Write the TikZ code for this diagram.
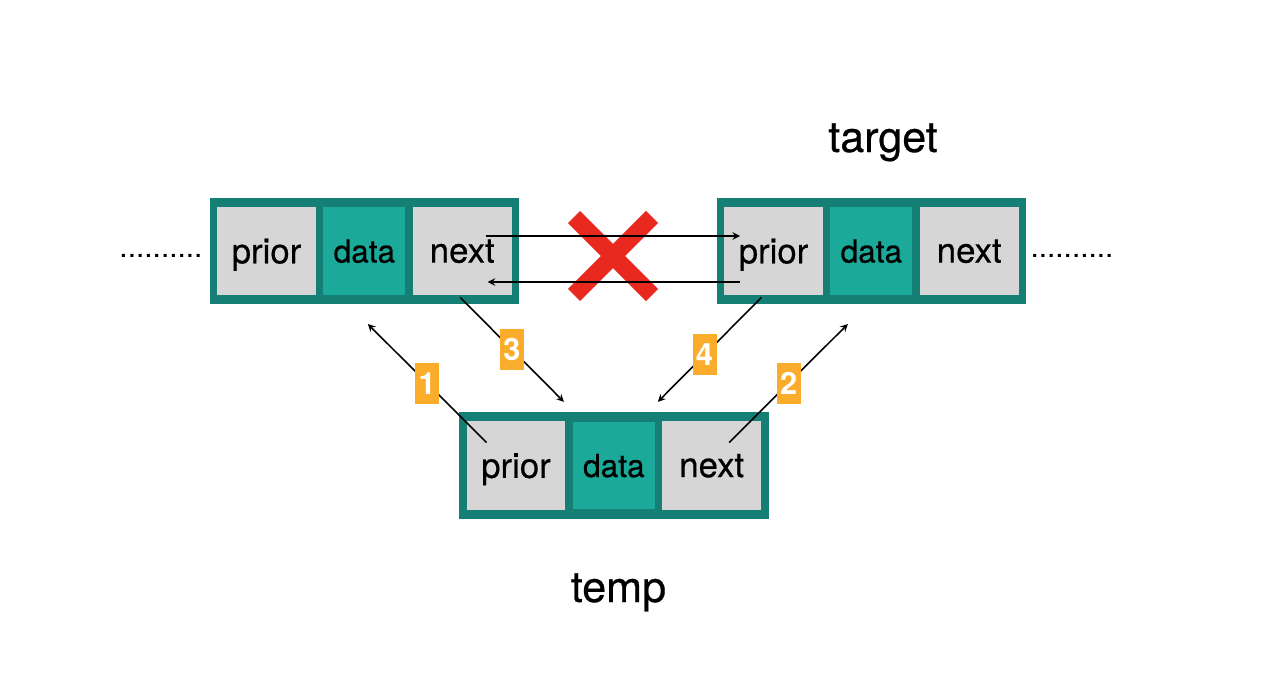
\documentclass[tikz,border=0pt]{standalone}
\usepackage{fontspec}
\setmainfont{TeX Gyre Heros}
\newfontfamily\diagfont[FakeBold=0.5]{TeX Gyre Heros}
\usepackage{xcolor}
\usepackage{tikz}
\usetikzlibrary{shapes,arrows,positioning,fit,backgrounds}

\definecolor{frameteal}{HTML}{167F75}
\definecolor{datateal}{HTML}{1BA99A}
\definecolor{cellgray}{HTML}{D6D6D6}
\definecolor{crossred}{HTML}{E8291F}
\definecolor{numorange}{HTML}{FAAC2A}

\begin{document}
\begin{tikzpicture}[
    x=0.02cm, y=-0.02cm,
    cell/.style={rectangle,fill=cellgray,minimum width=1.98cm,minimum height=1.78cm,inner sep=0pt,text depth=0pt,font=\diagfont\fontsize{19.8}{24}\selectfont},
    datacell/.style={cell,fill=datateal,draw=frameteal,line width=0.6pt,minimum width=1.66cm,font=\diagfont\fontsize{18}{22}\selectfont},
    frame/.style={rectangle,fill=frameteal,inner xsep=0.14cm,inner ysep=0.17cm},
    arrow/.style={-stealth,line width=0.9pt},
    num/.style={rectangle,fill=numorange,text=white,minimum width=0.48cm,minimum height=0.82cm,inner sep=0pt,font=\bfseries\fontsize{17.5}{20}\selectfont},
    title/.style={anchor=base,font=\diagfont\fontsize{24.5}{30}\selectfont},
    dots/.style={anchor=base,font=\fontsize{17}{20}\selectfont},
    bigcross/.style={crossred,line width=0.34cm}
]
    \useasboundingbox (0,0) rectangle (1280,693);

    % left node
    \node[cell] (lprior) at (266.5,251) {prior};
    \node[datacell,right=0.12cm of lprior] (ldata) {data};
    \node[cell,right=0.12cm of ldata] (lnext) {next};

    % target node
    \node[cell] (rprior) at (773.5,251) {prior};
    \node[datacell,right=0.12cm of rprior] (rdata) {data};
    \node[cell,right=0.12cm of rdata] (rnext) {next};

    % temp node
    \node[cell] (tprior) at (516,465.5) {prior};
    \node[datacell,right=0.12cm of tprior] (tdata) {data};
    \node[cell,right=0.12cm of tdata] (tnext) {next};

    \begin{scope}[on background layer]
        \node[frame,fit=(lprior)(lnext)] (lnode) {};
        \node[frame,fit=(rprior)(rnext)] (rnode) {};
        \node[frame,fit=(tprior)(tnext)] (tnode) {};
    \end{scope}

    \node[dots] (ldots) at (161,257.5) {..........};
    \node[dots] (rdots) at (1072,257.5) {..........};
    \node[title] (targetlabel) at (883,152) {target};
    \node[title] (templabel) at (618.5,602) {temp};

    % old links, cut
    \coordinate (cross) at (613,256);
    \draw[bigcross] ([shift={(-39,-39)}]cross) -- ([shift={(39,39)}]cross);
    \draw[bigcross] ([shift={(39,-39)}]cross) -- ([shift={(-39,39)}]cross);
    \draw[arrow] ([shift={(23.5,-15)}]lnext.center) -- ([shift={(-33.5,-15)}]rprior.center);
    \draw[arrow] ([shift={(-33.5,31)}]rprior.center) -- ([shift={(25.5,31)}]lnext.center);

    % new links
    \draw[arrow] ([shift={(-29.5,-23)}]tprior.center) -- node[num] {1} ([shift={(3.5,28)}]ldata.south);
    \draw[arrow] ([shift={(17.5,-23)}]tnext.center) -- node[num] {2} ([shift={(-23.5,28)}]rdata.south);
    \draw[arrow] ([shift={(-2,1.5)}]lnext.south) -- node[num] {3} ([shift={(-50,-10)}]tnode.north);
    \draw[arrow] ([shift={(-12,1.5)}]rprior.south) -- node[num,pos=0.55] {4} ([shift={(44,-10)}]tnode.north);
\end{tikzpicture}
\end{document}
